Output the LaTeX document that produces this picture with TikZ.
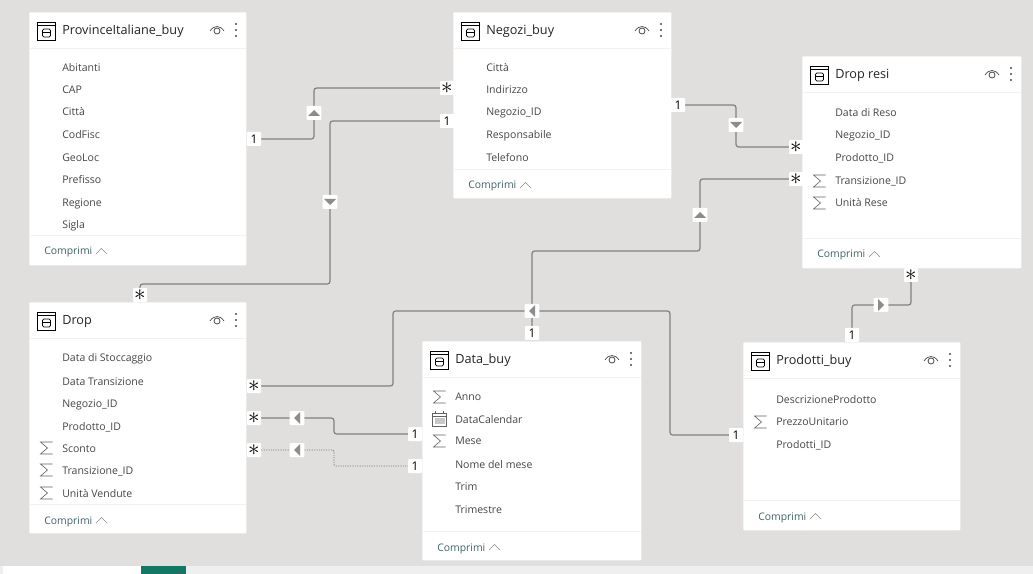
\documentclass[tikz,border=0pt]{standalone}
\usepackage{fontspec}
\setmainfont{Open Sans}
\usetikzlibrary{backgrounds}
\definecolor{canvas}{HTML}{E0DFDD}
\definecolor{barlite}{HTML}{EFEFEF}
\definecolor{bargreen}{HTML}{117865}
\definecolor{wire}{HTML}{808080}
\definecolor{tipgray}{HTML}{8C8C8C}
\definecolor{rulelite}{HTML}{F3F2F1}
\definecolor{titlefg}{HTML}{252423}
\definecolor{fieldfg}{HTML}{484644}
\definecolor{lessfg}{HTML}{3F6365}
\tikzset{
  cardbox/.style={fill=white, draw=none, anchor=north west, inner sep=0pt, rounded corners=.6pt},
  cardtitle/.style={anchor=west, inner sep=0pt, text height=8pt, text depth=1pt,
                    font=\fontsize{9.5}{11}\selectfont, text=titlefg},
  fieldtext/.style={anchor=west, inner sep=0pt, text height=7pt, text depth=1pt,
                    font=\fontsize{7.9}{9}\selectfont, text=fieldfg},
  lesstext/.style={anchor=west, inner sep=0pt, text height=7pt, text depth=1pt,
                   font=\fontsize{7.8}{9}\selectfont, text=lessfg},
  badge/.style={fill=white, inner sep=0pt, minimum width=10.5pt, minimum height=10.5pt,
                rounded corners=.6pt, font=\fontsize{9}{10}\selectfont, text=black},
  filterbox/.style={fill=white, inner sep=0pt, minimum width=11pt, minimum height=10.5pt, rounded corners=.8pt},
  rel/.style={draw=wire, line width=.9pt, rounded corners=2pt},
  relhidden/.style={draw=wire, line width=.7pt, dash pattern=on .9pt off .9pt, rounded corners=1pt},
  pics/tableicon/.style={code={
    \draw[black, line width=.7pt] (-9,-9) rectangle (9,9);
    \draw[black, line width=.7pt] (-9,-6) -- (9,-6);
    \draw[black, line width=.6pt, rounded corners=1pt] (-4,-2) rectangle (4,6);
    \draw[black, line width=.5pt] (-4,1) -- (4,1);
  }},
  pics/eyeicon/.style={code={
    \draw[fieldfg, line width=.5pt] (-7,1) .. controls (-3,-5) and (3,-5) .. (7,1);
    \draw[fieldfg, line width=.6pt] (0,1) circle (3);
  }},
  pics/dotsicon/.style={code={
    \foreach \d in {-6,0,6} \fill[fieldfg] (0,\d) circle (1.1);
  }},
  pics/sigmaicon/.style={code={
    \draw[fieldfg!85, line width=.45pt] (6,-6) -- (-6,-6) -- (1,0) -- (-6,6) -- (6,6);
  }},
  pics/calicon/.style={code={
    \draw[fieldfg!85, line width=.45pt] (-7,-6) rectangle (7,7);
    \draw[fieldfg!85, line width=.45pt] (-7,-3) -- (7,-3);
    \draw[fieldfg!85, line width=.45pt] (-4,-8) -- (-4,-5) (4,-8) -- (4,-5);
    \fill[fieldfg!30] (-5,-1) rectangle (5,5);
  }},
  pics/noicon/.style={code={}},
  pics/lesschevron/.style={code={
    \draw[tipgray, line width=.45pt] (-5.5,3) -- (0,-2.5) -- (5.5,3);
  }},
  pics/filtertip/.style={code={
    \fill[tipgray] (3,0) -- (-3,-6) -- (-3,6) -- cycle;
  }}
}
% name, left, top, width, height, title, footer y, fields
\newcommand{\tablecard}[8]{
  \node[cardbox, minimum width=#4*.75pt, minimum height=#5*.75pt] (#1) at (#2,#3) {};
  \draw[rulelite, line width=.6pt] (#2,#3+36) -- (#2+#4,#3+36);
  \draw[rulelite, line width=.6pt] (#2,#7) -- (#2+#4,#7);
  \pic at (#2+17.5,#3+19) {tableicon};
  \node[cardtitle] (#1-title) at (#2+33,#3+17.5) {#6};
  \pic at (#2+#4-29,#3+18) {eyeicon};
  \pic at (#2+#4-10,#3+18) {dotsicon};
  \foreach \fy/\ftext/\ficon in {#8} {
    \node[fieldtext] (#1-\fy) at (#2+33,\fy) {\ftext};
    \pic at (#2+17.5,\fy) {\ficon};
  }
  \node[lesstext] (#1-less) at (#2+15,#7+16) {Comprimi};
  \pic at (#2+72.5,#7+16) {lesschevron};
}
\newcommand{\relfilter}[4]{
  \node[filterbox] (#1) at (#2,#3) {};
  \pic[rotate=#4] at (#1) {filtertip};
}
\newcommand{\starmark}{\fontsize{18}{18}\selectfont$\ast$}

\begin{document}
\begin{tikzpicture}[x=.75pt,y=-.75pt]
  \useasboundingbox (0,0) rectangle (1033,574);
  \begin{pgfonlayer}{background}
    \fill[canvas] (0,0) rectangle (1033,574);
    \fill[barlite] (0,566) rectangle (1033,574);
    \fill[white] (3,566) rectangle (141,574);
    \fill[bargreen] (141,566) rectangle (186,574);
  \end{pgfonlayer}

  % tables
  \tablecard{province}{29}{12}{217}{253}{ProvinceItaliane\_buy}{235}{68/Abitanti/noicon,90/CAP/noicon,112/Città/noicon,135/CodFisc/noicon,158/GeoLoc/noicon,180/Prefisso/noicon,203/Regione/noicon,225/Sigla/noicon}
  \tablecard{negozi}{453}{12}{218}{186}{Negozi\_buy}{169}{68/Città/noicon,90/Indirizzo/noicon,112/Negozio\_ID/noicon,135/Responsabile/noicon,158/Telefono/noicon}
  \tablecard{dropresi}{802}{56}{219}{212}{Drop resi}{238}{113/Data di Reso/noicon,135/Negozio\_ID/noicon,158/Prodotto\_ID/noicon,181/Transizione\_ID/sigmaicon,203/Unità Rese/sigmaicon}
  \tablecard{drop}{29}{302}{217}{231}{Drop}{504}{358/Data di Stoccaggio/noicon,381/Data Transizione/noicon,403/Negozio\_ID/noicon,426/Prodotto\_ID/noicon,448/Sconto/sigmaicon,470/Transizione\_ID/sigmaicon,493/Unità Vendute/sigmaicon}
  \tablecard{databuy}{422}{341}{219}{219}{Data\_buy}{531}{397/Anno/sigmaicon,419/DataCalendar/calicon,441/Mese/sigmaicon,464/Nome del mese/noicon,486/Trim/noicon,509/Trimestre/noicon}
  \tablecard{prodotti}{743}{342}{217}{188}{Prodotti\_buy}{500}{399/DescrizioneProdotto/noicon,422/PrezzoUnitario/sigmaicon,444/Prodotti\_ID/noicon}

  % cardinality
  \node[badge] (provinceone) at (254,139) {1};
  \node[badge] (negozistar) at (447,88) {\starmark};
  \node[badge] (negozione) at (447,121) {1};
  \node[badge] (dropstartop) at (140,295) {\starmark};
  \node[badge] (negozioneb) at (678,105) {1};
  \node[badge] (resistar) at (796,147) {\starmark};
  \node[badge] (resistarb) at (796,179) {\starmark};
  \node[badge] (dataone) at (532,333) {1};
  \node[badge] (dropstara) at (254,386) {\starmark};
  \node[badge] (prodone) at (736,435) {1};
  \node[badge] (dropstarb) at (254,418) {\starmark};
  \node[badge] (dataoneb) at (415,434) {1};
  \node[badge] (dropstarc) at (254,450) {\starmark};
  \node[badge] (dataonec) at (415,466) {1};
  \node[badge] (prodoneb) at (852,335) {1};
  \node[badge] (resistarc) at (911,275) {\starmark};

  % filter direction
  \relfilter{filterprov}{314}{113}{90}
  \relfilter{filterdrop}{330}{202}{-90}
  \relfilter{filterresi}{736}{125}{-90}
  \relfilter{filterdata}{700}{215}{90}
  \relfilter{filterprod}{532}{311}{180}
  \relfilter{filterneg}{297}{418}{180}
  \relfilter{filterhid}{297}{450}{180}
  \relfilter{filterback}{881}{305}{0}

  \coordinate (benddrop) at (140,284);
  \coordinate (benddata) at (700,251);
  \coordinate (bendleft) at (393,311);
  \coordinate (bendright) at (670,311);
  \coordinate (bendmid) at (334,426);
  \coordinate (bendmidb) at (334,458);

  % relations
  \begin{pgfonlayer}{background}
    \draw[rel] (provinceone.center) -| (filterprov.center) |- (negozistar.center);
    \draw[rel] (negozione.center) -| (filterdrop.center) |- (benddrop) -- (dropstartop.center);
    \draw[rel] (negozioneb.center) -| (filterresi.center) |- (resistar.center);
    \draw[rel] (dataone.center) |- (benddata) -- (filterdata.center) |- (resistarb.center);
    \draw[rel] (dropstara.center) -| (bendleft) -- (filterprod.center) -- (bendright) |- (prodone.center);
    \draw[rel] (dropstarb.center) -- (filterneg.center) -| (bendmid) |- (dataoneb.center);
    \draw[relhidden] (dropstarc.center) -- (filterhid.center) -| (bendmidb) |- (dataonec.center);
    \draw[rel] (prodoneb.center) |- (filterback.center) -| (resistarc.center);
  \end{pgfonlayer}
\end{tikzpicture}
\end{document}
